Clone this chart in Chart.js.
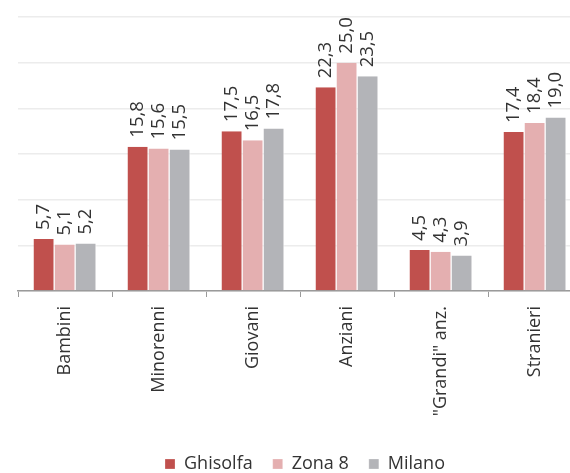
<!DOCTYPE html>
<html>
<head>
<meta charset="utf-8">
<script src="https://cdn.jsdelivr.net/npm/chart.js@4.4.0/dist/chart.umd.min.js"></script>
<style>
html,body{margin:0;padding:0;overflow:hidden;background:#fff;}
#wrap{width:610px;height:473px;position:relative;}
</style>
</head>
<body>
<div id="wrap"><canvas id="c"></canvas></div>
<script>
const categories = ['Bambini', 'Minorenni', 'Giovani', 'Anziani', '"Grandi" anz.', 'Stranieri'];
const ghisolfa = [5.7, 15.8, 17.5, 22.3, 4.5, 17.4];
const zona8 = [5.1, 15.6, 16.5, 25.0, 4.3, 18.4];
const milano = [5.2, 15.5, 17.8, 23.5, 3.9, 19.0];
const seriesNames = ['Ghisolfa', 'Zona 8', 'Milano'];
const yTicks = [0, 5, 10, 15, 20, 25, 30];

const FONT = "'Open Sans', sans-serif";

const valueLabels = {
  id: 'valueLabels',
  afterDatasetsDraw(chart) {
    const ctx = chart.ctx;
    ctx.save();
    ctx.font = "18.5px " + FONT;
    ctx.fillStyle = '#333333';
    ctx.textAlign = 'left';
    ctx.textBaseline = 'middle';
    chart.data.datasets.forEach((ds, di) => {
      const meta = chart.getDatasetMeta(di);
      meta.data.forEach((bar, i) => {
        const txt = ds.data[i].toFixed(1).replace('.', ',');
        ctx.save();
        ctx.translate(bar.x, bar.y - 9);
        ctx.rotate(-Math.PI / 2);
        ctx.fillText(txt, 0, 0);
        ctx.restore();
      });
    });
    ctx.restore();
  }
};

const shiftLegend = {
  id: 'shiftLegend',
  afterLayout(chart) {
    if (chart.legend) {
      chart.legend.left += 14; chart.legend.right += 14;
      chart.legend.top += 10; chart.legend.bottom += 10;
    }
  }
};

new Chart(document.getElementById('c'), {
  type: 'bar',
  data: {
    labels: categories,
    datasets: [
      { label: seriesNames[0], data: ghisolfa, backgroundColor: '#C0504D', borderColor: '#ffffff', borderWidth: {left:0,right:1,top:0,bottom:0} },
      { label: seriesNames[1], data: zona8, backgroundColor: '#E4AFB0', borderColor: '#ffffff', borderWidth: {left:0,right:1,top:0,bottom:0} },
      { label: seriesNames[2], data: milano, backgroundColor: '#B3B4B8', borderColor: '#ffffff', borderWidth: {left:0,right:1,top:0,bottom:0} }
    ]
  },
  options: {
    responsive: true,
    maintainAspectRatio: false,
    animation: false,
    devicePixelRatio: 1,
    layout: { padding: { top: 17, left: 0, right: 28, bottom: 0 } },
    datasets: { bar: { categoryPercentage: 0.67, barPercentage: 1.0 } },
    scales: {
      x: {
        grid: { display: true, drawOnChartArea: false, drawTicks: true, tickLength: 6, color: '#9a9a9a', offset: true },
        border: { display: true, color: '#9a9a9a', width: 1.5 },
        ticks: { color: '#333333', font: { family: FONT, size: 18 }, minRotation: 90, maxRotation: 90, autoSkip: false, padding: 9 },
        afterFit: s => { s.height = 134; }
      },
      y: {
        min: 0, max: 30,
        afterBuildTicks: s => { s.ticks = yTicks.map(v => ({ value: v })); },
        grid: { color: '#ececec', drawTicks: false, lineWidth: 1.5 },
        border: { display: false },
        ticks: { display: false },
        afterFit: s => { s.width = 18; }
      }
    },
    plugins: {
      legend: {
        position: 'bottom',
        labels: { color: '#333333', font: { family: FONT, size: 18 }, boxWidth: 10, boxHeight: 10, padding: 20 }
      },
      tooltip: { enabled: false }
    }
  },
  plugins: [valueLabels, shiftLegend]
});
</script>
</body>
</html>
